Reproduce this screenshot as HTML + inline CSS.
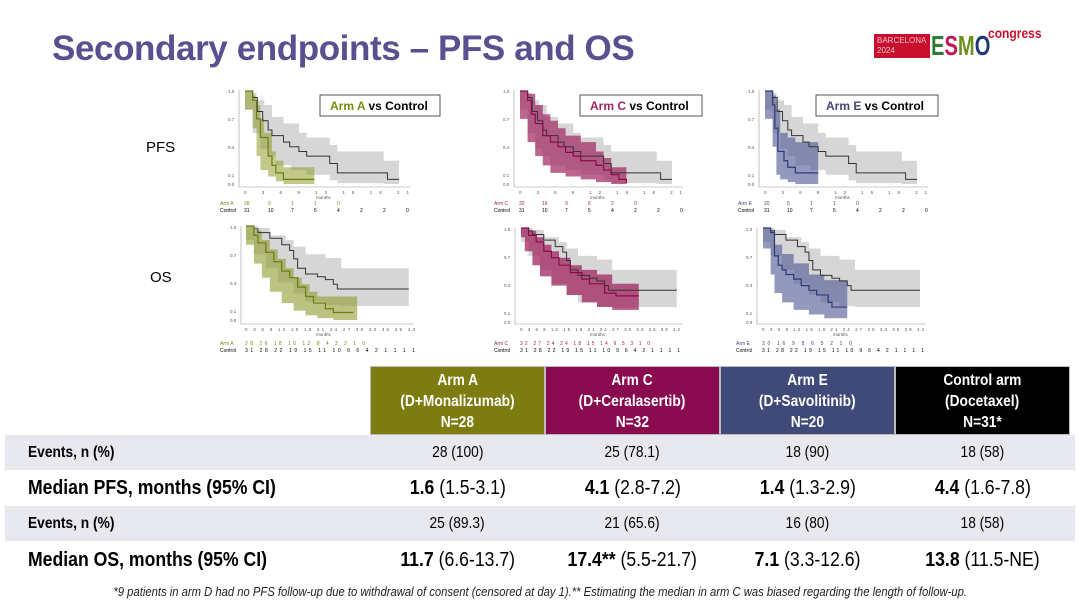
<!DOCTYPE html>
<html><head><meta charset="utf-8">
<style>
html,body{margin:0;padding:0;background:#fff;}
body{width:1080px;height:605px;position:relative;overflow:hidden;font-family:"Liberation Sans",sans-serif;}
.title{position:absolute;left:52px;top:29px;font-size:35px;font-weight:bold;color:#5a4f8f;letter-spacing:-0.4px;white-space:nowrap;}
.lbl{position:absolute;font-size:15px;color:#000;}
.sq{display:inline-block;transform:scaleX(0.86);transform-origin:center;white-space:nowrap;}
.sql{display:inline-block;transform:scaleX(0.86);transform-origin:left;white-space:nowrap;}
.hdr{position:absolute;top:366px;height:69px;color:#fff;font-weight:bold;font-size:16px;text-align:center;line-height:21px;padding-top:3px;box-sizing:border-box;border:1px solid #bbb;}
.row{position:absolute;left:5px;width:1070px;}
.cell{position:absolute;text-align:center;width:175px;}
.foot{position:absolute;left:0;width:1080px;top:585px;text-align:center;font-size:12.5px;font-style:italic;color:#222;}
.foot .sq{transform:scaleX(0.9);}
</style></head><body>
<div class="title">Secondary endpoints – PFS and OS</div>
<div style="position:absolute;left:874px;top:34px;width:56px;height:24px;background:#c8102e;color:#f3c0c8;font-size:8px;line-height:10px;padding:2px 0 0 3px;box-sizing:border-box;overflow:hidden;">BARCELONA<br>2024</div>
<div style="position:absolute;left:931px;top:31px;font-size:28px;font-weight:bold;line-height:30px;"><span class="sql" style="transform:scaleX(0.72)"><span style="color:#2e7d32">E</span><span style="color:#c2185b">S</span><span style="color:#6d8f1f">M</span><span style="color:#1f3b73">O</span></span></div>
<div style="position:absolute;left:988px;top:25px;font-size:14px;color:#c8102e;font-weight:bold;"><span class="sql">congress</span></div>

<div class="lbl" style="left:146px;top:139px;">PFS</div>
<div class="lbl" style="left:150px;top:269px;">OS</div>

<svg width="1080" height="360" style="position:absolute;left:0;top:0" font-family="Liberation Sans, sans-serif">
<g transform="translate(245,184) scale(7.7,-93)">
 <path d="M0 1 H1 V0.98 H1.5 V0.9 H2.5 V0.85 H3.5 V0.72 H5 V0.65 H7 V0.55 H8 V0.5 H11 V0.42 H12 V0.35 H18 V0.25 H20 V0 H18 V0.01 H12 V0.04 H11 V0.1 H8 V0.15 H6 V0.2 H4 V0.3 H3 V0.38 H2 V0.55 H1 V0.8 H0 Z" fill="#d6d6d6"/>
 <path d="M0 1 H1 V0.95 H1.4 V0.85 H2 V0.7 H2.5 V0.55 H3.5 V0.35 H4 V0.25 H5 V0.18 H9 V0 H5 V0.03 H4 V0.08 H3 V0.15 H2 V0.3 H1.5 V0.6 H1 V0.8 H0 Z" fill="#8f9a2a" opacity="0.55"/>
 <path d="M0 1 H1 V0.93 H1.6 V0.78 H2.3 V0.68 H3 V0.58 H3.5 V0.52 H5 V0.45 H5.8 V0.4 H7 V0.35 H8 V0.3 H11 V0.22 H12 V0.12 H18.5 V0.05 H20" fill="none" stroke="#333" stroke-width="1" vector-effect="non-scaling-stroke"/>
 <path d="M0 1 H1 V0.9 H1.5 V0.7 H2 V0.5 H3 V0.3 H3.5 V0.2 H4 V0.12 H5 V0.05 H9" fill="none" stroke="#6f7d10" stroke-width="1.2" vector-effect="non-scaling-stroke"/>
</g>
<g transform="translate(520,184) scale(7.6,-93)">
 <path d="M0 1 H1 V0.98 H1.5 V0.9 H2.5 V0.85 H3.5 V0.72 H5 V0.65 H7 V0.55 H8 V0.5 H11 V0.42 H12 V0.35 H18 V0.25 H20 V0 H18 V0.01 H12 V0.04 H11 V0.1 H8 V0.15 H6 V0.2 H4 V0.3 H3 V0.38 H2 V0.55 H1 V0.8 H0 Z" fill="#d6d6d6"/>
 <path d="M0 1 H1 V0.97 H2 V0.85 H3 V0.75 H4 V0.68 H5 V0.6 H6 V0.52 H8 V0.45 H10 V0.35 H11 V0.28 H12 V0.18 H14 V0 H12 V0.02 H10 V0.05 H8 V0.08 H6 V0.12 H4 V0.2 H3 V0.3 H2 V0.45 H1 V0.7 H0 Z" fill="#a0245f" opacity="0.7"/>
 <path d="M0 1 H1 V0.93 H1.6 V0.78 H2.3 V0.68 H3 V0.58 H3.5 V0.52 H5 V0.45 H5.8 V0.4 H7 V0.35 H8 V0.3 H11 V0.22 H12 V0.12 H18.5 V0.05 H20" fill="none" stroke="#333" stroke-width="1" vector-effect="non-scaling-stroke"/>
 <path d="M0 1 H1 V0.9 H1.5 V0.75 H2 V0.65 H3 V0.52 H4 V0.45 H5 V0.4 H6 V0.34 H7 V0.3 H8 V0.25 H10 V0.2 H11 V0.15 H12 V0.1 H13 V0.05 H14 V0.01" fill="none" stroke="#8a0b4c" stroke-width="1.2" vector-effect="non-scaling-stroke"/>
</g>
<g transform="translate(765,184) scale(7.6,-93)">
 <path d="M0 1 H1 V0.98 H1.5 V0.9 H2.5 V0.85 H3.5 V0.72 H5 V0.65 H7 V0.55 H8 V0.5 H11 V0.42 H12 V0.35 H18 V0.25 H20 V0 H18 V0.01 H12 V0.04 H11 V0.1 H8 V0.15 H6 V0.2 H4 V0.3 H3 V0.38 H2 V0.55 H1 V0.8 H0 Z" fill="#d6d6d6"/>
 <path d="M0 1 H1 V0.95 H1.5 V0.8 H2 V0.55 H3 V0.5 H4 V0.45 H7 V0 H4 V0.02 H3 V0.05 H2 V0.1 H1.5 V0.4 H1 V0.7 H0 Z" fill="#4a5590" opacity="0.6"/>
 <path d="M0 1 H1 V0.93 H1.6 V0.78 H2.3 V0.68 H3 V0.58 H3.5 V0.52 H5 V0.45 H5.8 V0.4 H7 V0.35 H8 V0.3 H11 V0.22 H12 V0.12 H18.5 V0.05 H20" fill="none" stroke="#333" stroke-width="1" vector-effect="non-scaling-stroke"/>
 <path d="M0 1 H1 V0.85 H1.3 V0.6 H1.7 V0.35 H2.5 V0.25 H3 V0.18 H4 V0.12 H7" fill="none" stroke="#2e3a78" stroke-width="1.2" vector-effect="non-scaling-stroke"/>
</g>

<g transform="translate(246,320) scale(3.97,-94)">
 <path d="M0 1 H3 V0.98 H6 V0.9 H10 V0.85 H12 V0.78 H15 V0.7 H20 V0.66 H24 V0.55 H41 V0.15 H24 V0.16 H20 V0.2 H15 V0.28 H12 V0.4 H8 V0.55 H5 V0.7 H2 V0.85 H0 Z" fill="#d6d6d6"/>
 <path d="M0 1 H2 V0.95 H4 V0.85 H6 V0.75 H8 V0.65 H10 V0.55 H12 V0.45 H14 V0.38 H16 V0.3 H18 V0.25 H28 V0 H22 V0.02 H18 V0.05 H15 V0.1 H12 V0.18 H9 V0.3 H6 V0.45 H4 V0.6 H2 V0.8 H0 Z" fill="#8f9a2a" opacity="0.6"/>
 <path d="M0 1 H2 V0.97 H3 V0.93 H6 V0.87 H9 V0.8 H11 V0.74 H12 V0.65 H13 V0.55 H15 V0.49 H18 V0.46 H20 V0.43 H22 V0.38 H23 V0.33 H41" fill="none" stroke="#333" stroke-width="1" vector-effect="non-scaling-stroke"/>
 <path d="M0 1 H2 V0.9 H3 V0.82 H5 V0.72 H7 V0.62 H9 V0.52 H11 V0.45 H13 V0.35 H15 V0.25 H17 V0.18 H20 V0.12 H22 V0.08 H27" fill="none" stroke="#6f7d10" stroke-width="1.2" vector-effect="non-scaling-stroke"/>
</g>
<g transform="translate(521,321) scale(3.8,-93)">
 <path d="M0 1 H3 V0.98 H6 V0.9 H10 V0.85 H12 V0.78 H15 V0.7 H20 V0.66 H24 V0.55 H41 V0.15 H24 V0.16 H20 V0.2 H15 V0.28 H12 V0.4 H8 V0.55 H5 V0.7 H2 V0.85 H0 Z" fill="#d6d6d6"/>
 <path d="M0 1 H2 V0.97 H4 V0.9 H6 V0.82 H8 V0.75 H10 V0.68 H13 V0.6 H16 V0.55 H20 V0.5 H24 V0.4 H31 V0.12 H24 V0.15 H20 V0.2 H16 V0.28 H12 V0.38 H8 V0.48 H5 V0.6 H3 V0.75 H1 V0.9 H0 Z" fill="#a0245f" opacity="0.75"/>
 <path d="M0 1 H2 V0.97 H3 V0.93 H6 V0.87 H9 V0.8 H11 V0.74 H12 V0.65 H13 V0.55 H15 V0.49 H18 V0.46 H20 V0.43 H22 V0.38 H23 V0.33 H41" fill="none" stroke="#333" stroke-width="1" vector-effect="non-scaling-stroke"/>
 <path d="M0 1 H2 V0.92 H4 V0.85 H6 V0.75 H8 V0.68 H10 V0.6 H13 V0.52 H16 V0.45 H18 V0.4 H22 V0.3 H25 V0.27 H31" fill="none" stroke="#8a0b4c" stroke-width="1.2" vector-effect="non-scaling-stroke"/>
</g>
<g transform="translate(763,321) scale(3.83,-93)">
 <path d="M0 1 H3 V0.98 H6 V0.9 H10 V0.85 H12 V0.78 H15 V0.7 H20 V0.66 H24 V0.55 H41 V0.15 H24 V0.16 H20 V0.2 H15 V0.28 H12 V0.4 H8 V0.55 H5 V0.7 H2 V0.85 H0 Z" fill="#d6d6d6"/>
 <path d="M0 1 H2 V0.97 H3 V0.82 H5 V0.72 H8 V0.62 H12 V0.5 H16 V0.44 H22 V0.03 H16 V0.07 H12 V0.12 H8 V0.2 H5 V0.3 H3 V0.5 H2 V0.78 H0 Z" fill="#4a5590" opacity="0.6"/>
 <path d="M0 1 H2 V0.97 H3 V0.93 H6 V0.87 H9 V0.8 H11 V0.74 H12 V0.65 H13 V0.55 H15 V0.49 H18 V0.46 H20 V0.43 H22 V0.38 H23 V0.33 H41" fill="none" stroke="#333" stroke-width="1" vector-effect="non-scaling-stroke"/>
 <path d="M0 1 H2 V0.95 H3 V0.7 H4 V0.6 H5 V0.55 H6 V0.5 H8 V0.45 H10 V0.38 H12 V0.33 H14 V0.28 H17 V0.2 H18 V0.15 H22" fill="none" stroke="#2e3a78" stroke-width="1.2" vector-effect="non-scaling-stroke"/>
</g>

<g stroke="#999" stroke-width="0.6" fill="none">
 <path d="M239 90 V187 H410"/><path d="M514 90 V187 H683"/><path d="M759 90 V187 H928"/>
 <path d="M241 226 V324 H414"/><path d="M515 228 V324 H683"/><path d="M757 228 V324 H926"/>
</g>
<g font-size="4.5" fill="#555">
 <text x="228" y="93">1.0</text><text x="228" y="121">0.7</text><text x="228" y="149">0.4</text><text x="228" y="177">0.1</text><text x="228" y="186">0.0</text>
 <text x="503" y="93">1.0</text><text x="503" y="121">0.7</text><text x="503" y="149">0.4</text><text x="503" y="177">0.1</text><text x="503" y="186">0.0</text>
 <text x="748" y="93">1.0</text><text x="748" y="121">0.7</text><text x="748" y="149">0.4</text><text x="748" y="177">0.1</text><text x="748" y="186">0.0</text>
 <text x="230" y="229">1.0</text><text x="230" y="257">0.7</text><text x="230" y="285">0.4</text><text x="230" y="313">0.1</text><text x="230" y="322">0.0</text>
 <text x="504" y="231">1.0</text><text x="504" y="259">0.7</text><text x="504" y="287">0.4</text><text x="504" y="315">0.1</text><text x="504" y="324">0.0</text>
 <text x="746" y="231">1.0</text><text x="746" y="259">0.7</text><text x="746" y="287">0.4</text><text x="746" y="315">0.1</text><text x="746" y="324">0.0</text>
 <text x="244" y="194" textLength="165">0 3 6 9 12 15 18 21</text>
 <text x="519" y="194" textLength="163">0 3 6 9 12 15 18 21</text>
 <text x="764" y="194" textLength="163">0 3 6 9 12 15 18 21</text>
 <text x="245" y="331" textLength="170">0 3 6 9 12 15 18 21 24 27 30 33 36 39 42</text>
 <text x="520" y="331" textLength="160">0 3 6 9 12 15 18 21 24 27 30 33 36 39 42</text>
 <text x="762" y="331" textLength="162">0 3 6 9 12 15 18 21 24 27 30 33 36 39 42</text>
 <text x="316" y="199">months</text><text x="590" y="199">months</text><text x="835" y="199">months</text>
 <text x="316" y="336">months</text><text x="590" y="336">months</text><text x="833" y="336">months</text>
</g>
<g font-size="5">
 <text x="220" y="205" fill="#7a8a10">Arm A  <tspan x="244">28</tspan><tspan x="268">9</tspan><tspan x="291">1</tspan><tspan x="314">1</tspan><tspan x="337">0</tspan></text>
 <text x="220" y="212" fill="#000">Control<tspan x="244">31</tspan><tspan x="268">10</tspan><tspan x="291">7</tspan><tspan x="314">5</tspan><tspan x="337">4</tspan><tspan x="360">2</tspan><tspan x="383">2</tspan><tspan x="406">0</tspan></text>
 <text x="494" y="205" fill="#a0245f">Arm C <tspan x="519">32</tspan><tspan x="542">16</tspan><tspan x="565">9</tspan><tspan x="588">6</tspan><tspan x="611">2</tspan><tspan x="634">0</tspan></text>
 <text x="494" y="212" fill="#000">Control<tspan x="519">31</tspan><tspan x="542">10</tspan><tspan x="565">7</tspan><tspan x="588">5</tspan><tspan x="611">4</tspan><tspan x="634">2</tspan><tspan x="657">2</tspan><tspan x="680">0</tspan></text>
 <text x="738" y="205" fill="#3f4775">Arm E <tspan x="764">20</tspan><tspan x="787">5</tspan><tspan x="810">1</tspan><tspan x="833">1</tspan><tspan x="856">0</tspan></text>
 <text x="738" y="212" fill="#000">Control<tspan x="764">31</tspan><tspan x="787">10</tspan><tspan x="810">7</tspan><tspan x="833">5</tspan><tspan x="856">4</tspan><tspan x="879">2</tspan><tspan x="902">2</tspan><tspan x="925">0</tspan></text>
 <text x="220" y="345" fill="#7a8a10">Arm A <tspan x="245" textLength="120">28 26 18 16 12 8 4 3 2 1 0</tspan></text>
 <text x="220" y="352" fill="#000">Control <tspan x="245" textLength="170">31 28 22 19 15 11 10 9 6 4 2 1 1 1 1</tspan></text>
 <text x="494" y="345" fill="#a0245f">Arm C <tspan x="520" textLength="130">32 27 24 24 18 15 14 9 5 3 1 0</tspan></text>
 <text x="494" y="352" fill="#000">Control <tspan x="520" textLength="160">31 28 22 19 15 11 10 9 6 4 2 1 1 1 1</tspan></text>
 <text x="736" y="345" fill="#3f4775">Arm E <tspan x="762" textLength="90">20 16 9 8 6 5 2 1 0</tspan></text>
 <text x="736" y="352" fill="#000">Control <tspan x="762" textLength="162">31 28 22 19 15 11 10 9 6 4 2 1 1 1 1</tspan></text>
</g>
<g font-size="12" font-weight="bold">
 <rect x="320" y="95" width="120" height="21" fill="#fff" stroke="#555"/>
 <text x="330" y="110"><tspan fill="#7a8a10">Arm A</tspan> vs Control</text>
 <rect x="580" y="95" width="122" height="21" fill="#fff" stroke="#555"/>
 <text x="590" y="110"><tspan fill="#a0245f">Arm C</tspan> vs Control</text>
 <rect x="816" y="95" width="122" height="21" fill="#fff" stroke="#555"/>
 <text x="826" y="110"><tspan fill="#3f4775">Arm E</tspan> vs Control</text>
</g>
</svg>

<div class="hdr" style="left:370px;width:175px;background:#7c7c10;"><span class="sq">Arm A</span><br><span class="sq">(D+Monalizumab)</span><br><span class="sq">N=28</span></div>
<div class="hdr" style="left:545px;width:175px;background:#8a0a50;"><span class="sq">Arm C</span><br><span class="sq">(D+Ceralasertib)</span><br><span class="sq">N=32</span></div>
<div class="hdr" style="left:720px;width:175px;background:#404a78;"><span class="sq">Arm E</span><br><span class="sq">(D+Savolitinib)</span><br><span class="sq">N=20</span></div>
<div class="hdr" style="left:895px;width:175px;background:#000;"><span class="sq">Control arm</span><br><span class="sq">(Docetaxel)</span><br><span class="sq">N=31*</span></div>

<div class="row" style="top:435px;height:35px;background:#e7e9ee;font-size:16px;line-height:35px;">
 <div style="position:absolute;left:23px;font-weight:bold;"><span class="sql">Events, n (%)</span></div>
 <div class="cell" style="left:365px"><span class="sq">28 (100)</span></div><div class="cell" style="left:540px"><span class="sq">25 (78.1)</span></div><div class="cell" style="left:715px"><span class="sq">18 (90)</span></div><div class="cell" style="left:890px"><span class="sq">18 (58)</span></div>
</div>
<div class="row" style="top:470px;height:36px;font-size:20.5px;line-height:36px;">
 <div style="position:absolute;left:23px;font-weight:bold;"><span class="sql">Median PFS, months (95% CI)</span></div>
 <div class="cell" style="left:365px"><span class="sq"><b>1.6</b> (1.5-3.1)</span></div><div class="cell" style="left:540px"><span class="sq"><b>4.1</b> (2.8-7.2)</span></div><div class="cell" style="left:715px"><span class="sq"><b>1.4</b> (1.3-2.9)</span></div><div class="cell" style="left:890px"><span class="sq"><b>4.4</b> (1.6-7.8)</span></div>
</div>
<div class="row" style="top:506px;height:35px;background:#e7e9ee;font-size:16px;line-height:35px;">
 <div style="position:absolute;left:23px;font-weight:bold;"><span class="sql">Events, n (%)</span></div>
 <div class="cell" style="left:365px"><span class="sq">25 (89.3)</span></div><div class="cell" style="left:540px"><span class="sq">21 (65.6)</span></div><div class="cell" style="left:715px"><span class="sq">16 (80)</span></div><div class="cell" style="left:890px"><span class="sq">18 (58)</span></div>
</div>
<div class="row" style="top:541px;height:38px;font-size:20.5px;line-height:38px;">
 <div style="position:absolute;left:23px;font-weight:bold;"><span class="sql">Median OS, months (95% CI)</span></div>
 <div class="cell" style="left:365px"><span class="sq"><b>11.7</b> (6.6-13.7)</span></div><div class="cell" style="left:540px"><span class="sq"><b>17.4**</b> (5.5-21.7)</span></div><div class="cell" style="left:715px"><span class="sq"><b>7.1</b> (3.3-12.6)</span></div><div class="cell" style="left:890px"><span class="sq"><b>13.8</b> (11.5-NE)</span></div>
</div>
<div class="foot"><span class="sq">*9 patients in arm D had no PFS follow-up due to withdrawal of consent (censored at day 1).** Estimating the median in arm C was biased regarding the length of follow-up.</span></div>
</body></html>
